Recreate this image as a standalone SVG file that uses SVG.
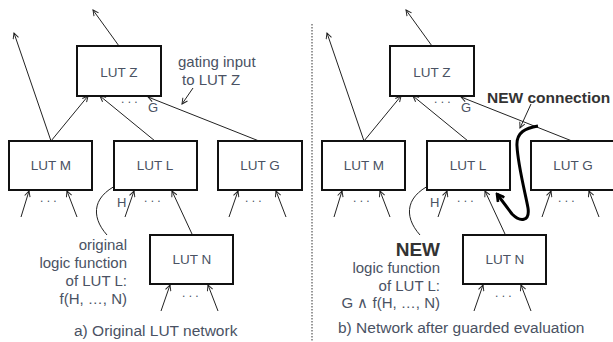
<svg xmlns="http://www.w3.org/2000/svg" width="613" height="342" viewBox="0 0 613 342">
<style>
.box{fill:#fff;stroke:#111;stroke-width:2}
.lbl{font-family:"Liberation Sans",Arial,sans-serif;font-size:13.5px;fill:#4a5263;text-anchor:middle}
.ann{font-family:"Liberation Sans",Arial,sans-serif;font-size:15px;fill:#4a5263}
.sm{font-family:"Liberation Sans",Arial,sans-serif;font-size:13px;fill:#4a5263}
.dots{font-family:"Liberation Sans",Arial,sans-serif;font-size:12px;fill:#4a5263}
.bold{font-family:"Liberation Sans",Arial,sans-serif;font-weight:bold;fill:#333}
.cap{font-family:"Liberation Sans",Arial,sans-serif;font-size:15.5px;fill:#4a5263}
.c{fill:none;stroke:#222;stroke-width:1;marker-end:url(#ah)}
.thick{fill:none;stroke:#000;stroke-width:3;marker-end:url(#ahb)}
</style>
<defs>
<marker id="ah" viewBox="0 0 10 10" refX="9" refY="5" markerWidth="7" markerHeight="7" orient="auto" markerUnits="userSpaceOnUse">
<path d="M1,1 L9,5 L1,9" fill="none" stroke="#222" stroke-width="1.4"/>
</marker>
<marker id="ahb" viewBox="0 0 10 10" refX="8" refY="5" markerWidth="10" markerHeight="10" orient="auto" markerUnits="userSpaceOnUse">
<path d="M1,1 L8,5 L1,9" fill="none" stroke="#000" stroke-width="2.6"/>
</marker>
</defs>

<g id="divider"><line x1="312" y1="24" x2="312" y2="342" stroke="#333" stroke-width="1" stroke-dasharray="1.5,1.5"/></g>

<g id="connectors">
<g id="conn-a">
<path class="c" d="M119,46 L93,10"/>
<path class="c" d="M51,141 L14,33"/>
<path class="c" d="M51,141 L88,96"/>
<path class="c" d="M155,141 L100,96"/>
<path class="c" d="M259,141 L148,97"/>
<path class="c" d="M193,88 L182,104"/>
<path class="c" d="M21,217 L29,191"/>
<path class="c" d="M77,217 L67,191"/>
<path class="c" d="M125,217 L134,191"/>
<path class="c" d="M192,234 L172,191"/>
<path class="c" d="M229,217 L238,191"/>
<path class="c" d="M286,217 L276,191"/>
<path class="c" d="M161,311 L170,285"/>
<path class="c" d="M218,311 L208,285"/>
<path class="c" d="M107,235 C90,216 92,194 124,182"/>
</g>
<g id="conn-b" transform="translate(313,0)">
<path class="c" d="M119,46 L93,10"/>
<path class="c" d="M51,141 L14,33"/>
<path class="c" d="M51,141 L88,96"/>
<path class="c" d="M155,141 L100,96"/>
<path class="c" d="M259,141 L148,97"/>
<path class="c" d="M21,217 L29,191"/>
<path class="c" d="M77,217 L67,191"/>
<path class="c" d="M125,217 L134,191"/>
<path class="c" d="M192,234 L172,191"/>
<path class="c" d="M229,217 L238,191"/>
<path class="c" d="M286,217 L276,191"/>
<path class="c" d="M161,311 L170,285"/>
<path class="c" d="M218,311 L208,285"/>
<path class="c" d="M107,235 C90,216 92,194 124,182"/>
</g>
<path class="c" d="M531,104 L520,128"/>
<path class="thick" d="M538,126 C526,128 516,132 517,146 C518,166 526,196 528,208 C530,222 520,222 512,214 L497,194"/>
</g>

<g id="panel-a">
<g id="lutZ-a"><rect class="box" x="77" y="46" width="84" height="50"/><text class="lbl" x="119" y="77">LUT Z</text></g>
<g id="lutM-a"><rect class="box" x="9" y="141" width="83" height="49"/><text class="lbl" x="51" y="170">LUT M</text></g>
<g id="lutL-a"><rect class="box" x="114" y="141" width="83" height="49"/><text class="lbl" x="155" y="170">LUT L</text></g>
<g id="lutG-a"><rect class="box" x="218" y="141" width="84" height="49"/><text class="lbl" x="260" y="170">LUT G</text></g>
<g id="lutN-a"><rect class="box" x="150" y="235" width="83" height="49"/><text class="lbl" x="192" y="264">LUT N</text></g>
<text class="dots" x="121" y="103">. . .</text>
<text class="sm" x="148" y="112">G</text>
<text class="sm" x="117" y="207">H</text>
<text class="dots" x="40" y="202">. . .</text>
<text class="dots" x="144" y="202">. . .</text>
<text class="dots" x="245" y="202">. . .</text>
<text class="dots" x="182" y="297">. . .</text>
<text class="ann" x="178" y="67">gating input</text>
<text class="ann" x="182" y="85">to LUT Z</text>
<text class="ann" x="127" y="250" text-anchor="end">original</text>
<text class="ann" x="127" y="268" text-anchor="end">logic function</text>
<text class="ann" x="127" y="286" text-anchor="end">of LUT L:</text>
<text class="ann" x="127" y="304" text-anchor="end">f(H, …, N)</text>
<text class="cap" x="74" y="336">a) Original LUT network</text>
</g>

<g id="panel-b">
<g id="lutZ-b"><rect class="box" x="390" y="46" width="84" height="50"/><text class="lbl" x="432" y="77">LUT Z</text></g>
<g id="lutM-b"><rect class="box" x="322" y="141" width="83" height="49"/><text class="lbl" x="364" y="170">LUT M</text></g>
<g id="lutL-b"><rect class="box" x="427" y="141" width="83" height="49"/><text class="lbl" x="468" y="170">LUT L</text></g>
<g id="lutG-b"><rect class="box" x="531" y="141" width="84" height="49"/><text class="lbl" x="573" y="170">LUT G</text></g>
<g id="lutN-b"><rect class="box" x="463" y="235" width="83" height="49"/><text class="lbl" x="505" y="264">LUT N</text></g>
<text class="dots" x="434" y="103">. . .</text>
<text class="sm" x="461" y="112">G</text>
<text class="sm" x="430" y="207">H</text>
<text class="dots" x="353" y="202">. . .</text>
<text class="dots" x="457" y="202">. . .</text>
<text class="dots" x="558" y="202">. . .</text>
<text class="dots" x="495" y="297">. . .</text>
<text class="bold" x="487" y="103" font-size="15.5">NEW connection</text>
<text class="bold" x="440" y="256" font-size="19" text-anchor="end">NEW</text>
<text class="ann" x="440" y="273" text-anchor="end">logic function</text>
<text class="ann" x="440" y="291" text-anchor="end">of LUT L:</text>
<text class="ann" x="440" y="308" text-anchor="end">G ∧ f(H, …, N)</text>
<text class="cap" x="338" y="333">b) Network after guarded evaluation</text>
</g>
</svg>
